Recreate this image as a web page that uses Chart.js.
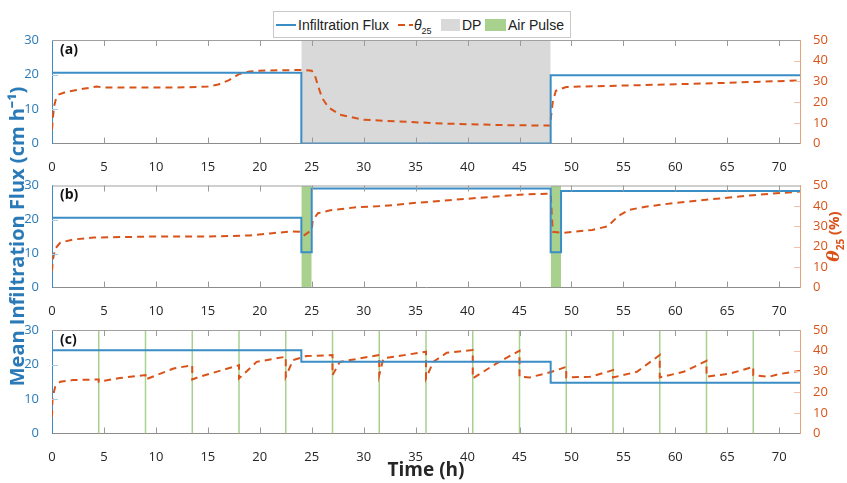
<!DOCTYPE html>
<html>
<head>
<meta charset="utf-8">
<title>Infiltration flux and theta25</title>
<script src="https://cdn.jsdelivr.net/npm/chart.js@4.4.1/dist/chart.umd.min.js"></script>
<style>
  body { margin: 0; background: #fff; }
  #wrap { position: relative; width: 847px; height: 483px; overflow: hidden; }
  #wrap canvas { position: absolute; left: 0; top: 0; }
  #legend { position: absolute; left: 273px; top: 11px; width: 296px; height: 25px; border: 1px solid #c8c8c8; background: #fff;
            font: 14px 'Liberation Sans', Arial, sans-serif; color: #222; z-index: 5; }
  #legend span { position: absolute; line-height: 16px; top: 5px; white-space: nowrap; }
  #legend .sw { height: 2px; top: 12px; }
  #legend .box { height: 12px; top: 7px; }
  #legend sub { font-size: 9px; }
</style>
</head>
<body>
<div id="wrap">
  <canvas id="panelA" width="847" height="483"></canvas>
  <canvas id="panelB" width="847" height="483"></canvas>
  <canvas id="panelC" width="847" height="483"></canvas>
  <div id="legend">
    <span class="sw" style="left:2px;width:20px;background:#3b8dc6"></span>
    <span style="left:24px">Infiltration Flux</span>
    <span class="sw" style="left:124px;width:15px;background:repeating-linear-gradient(90deg,#D95319 0 7px,transparent 7px 11px)"></span>
    <span style="left:140px"><i>θ</i><sub>25</sub></span>
    <span class="box" style="left:167px;width:19px;background:#d9d9d9"></span>
    <span style="left:188px">DP</span>
    <span class="box" style="left:211px;width:21px;background:#a9d18e"></span>
    <span style="left:234px">Air Pulse</span>
  </div>
</div>
<script>
// ---- tick labels ----
const xTicks = [0, 5, 10, 15, 20, 25, 30, 35, 40, 45, 50, 55, 60, 65, 70];
const fluxTicks = [0, 10, 20, 30];
const thetaTicks = [0, 10, 20, 30, 40, 50];

// ---- (a) drainage period ----
const fluxA_t = [0, 24, 24, 48, 48, 72];
const fluxA = [20.5, 20.5, 0, 0, 19.8, 19.8];
const thetaA_t = [0, 0.1, 0.2, 0.4, 0.7, 1.4, 3, 4.3, 5, 8, 12, 15, 16, 17, 18, 19, 20, 22, 24, 25, 25.3, 25.6, 26, 26.6, 27.7, 30, 33, 38, 44, 47.9, 48, 48.2, 48.5, 49.5, 55, 60, 65, 72];
const thetaA = [6.7, 13, 18, 22, 23.8, 25, 26.4, 27.5, 27, 27, 27, 27.5, 28.5, 30.5, 33.5, 34.8, 35.2, 35.4, 35.5, 35.2, 33, 28, 22, 17.5, 13.9, 11.5, 10.7, 9.6, 8.8, 8.7, 11.5, 20, 25.5, 27.3, 28, 28.6, 29.3, 30.5];
const dpPeriod = [24, 48];

// ---- (b) one-hour air pulses ----
const fluxB_t = [0, 24, 24, 25, 25, 48, 48, 49, 49, 72];
const fluxB = [20.5, 20.5, 10.4, 10.4, 29.1, 29.1, 10.4, 10.4, 28.4, 28.4];
const thetaB_t = [0, 0.1, 0.3, 0.8, 2, 4, 10, 15, 19, 21, 23, 24, 24.3, 25, 25.1, 25.6, 26.8, 29.3, 32, 35, 40, 45, 47.6, 48, 48.2, 49.2, 52, 53.5, 54.5, 55.5, 57, 60, 65, 68, 72];
const thetaB = [8, 14, 19, 22, 23.5, 24.5, 25, 25, 25.5, 26.5, 27.5, 27.3, 25.7, 28.2, 33, 36.4, 37.9, 39.3, 40, 41.5, 43.5, 45.5, 46, 46, 27.3, 26.8, 28.2, 30, 35, 38, 39.5, 41.5, 44, 45.5, 47];
const pulsesB = [[24, 25], [48, 49]];

// ---- (c) short air pulses every 4.5 h ----
const fluxC_t = [0, 24, 24, 48, 48, 72];
const fluxC = [24.1, 24.1, 20.8, 20.8, 14.7, 14.7];
const thetaC_t = [0, 0.05, 0.3, 0.8, 2, 4.5, 4.5, 6.5, 9, 9, 11.7, 13.5, 13.5, 14.2, 18, 18, 19.7, 22.5, 22.5, 23.2, 24.5, 27, 27, 27.7, 31.5, 31.5, 31.9, 36, 36, 36.7, 38, 40.5, 40.5, 42.8, 45, 45, 46, 48.1, 49.5, 49.5, 51.8, 54, 54, 56.3, 58.5, 58.5, 60.8, 63, 63, 65.3, 67.5, 67.5, 69, 70, 72];
const thetaC = [8, 17, 22.5, 25, 25.8, 26.1, 25, 26.8, 28.2, 26.1, 31.4, 33, 26.1, 27.4, 33, 26.6, 34.6, 37.1, 27.4, 35.5, 37.4, 37.9, 28.2, 34.6, 37.9, 28.2, 36.3, 39.5, 26.6, 34.6, 39, 40.3, 26.6, 33.9, 40, 27.4, 27.1, 29.8, 32.2, 27.1, 27.4, 30.6, 27.1, 29.8, 37.9, 27.1, 29.8, 35.1, 27.4, 29, 32.2, 28.2, 27.4, 28.7, 30.3];
const pulsesC = [4.5, 9, 13.5, 18, 22.5, 27, 31.5, 36, 40.5, 45, 49.5, 54, 58.5, 63, 67.5];

const BLUE = '#3b8dc6';
const BLUE_TXT = '#2a7ab8';
const ORANGE = '#D95319';
const DP_GRAY = '#d9d9d9';
const GREEN = '#a9d18e';

Chart.defaults.font.family = "'Open Sans', sans-serif";

function xy(ts, vs) {
  return ts.map((t, i) => ({ x: t, y: vs[i] }));
}

// MATLAB-like box: top border, inward ticks and the panel letter
const framePlugin = {
  id: 'frame',
  afterDraw(chart, args, opts) {
    const { ctx, chartArea: a, scales } = chart;
    const line = (x1, y1, x2, y2) => { ctx.beginPath(); ctx.moveTo(x1, y1); ctx.lineTo(x2, y2); ctx.stroke(); };
    ctx.save();
    ctx.lineWidth = 1;
    ctx.strokeStyle = '#a0a0a0';
    line(a.left, a.top + 0.5, a.right, a.top + 0.5);
    ctx.strokeStyle = '#9a9a9a';
    xTicks.slice(1).forEach(v => {
      const px = Math.round(scales.x.getPixelForValue(v)) + 0.5;
      line(px, a.bottom, px, a.bottom - 6);
      line(px, a.top, px, a.top + 6);
    });
    ctx.strokeStyle = '#a9cbe6';
    fluxTicks.slice(1, -1).forEach(v => {
      const py = Math.round(scales.y.getPixelForValue(v)) + 0.5;
      line(a.left, py, a.left + 6, py);
    });
    ctx.strokeStyle = '#f0c2a8';
    thetaTicks.slice(1, -1).forEach(v => {
      const py = Math.round(scales.y2.getPixelForValue(v)) + 0.5;
      line(a.right - 6, py, a.right, py);
    });
    ctx.fillStyle = '#111';
    ctx.font = "bold 14px 'Open Sans', sans-serif";
    ctx.textBaseline = 'middle';
    ctx.textAlign = 'left';
    ctx.fillText(opts.label, a.left + 8, a.top + 10);

    if (opts.rightTitle) {
      // right axis title "θ25 (%)" reading upwards, like MATLAB yyaxis right
      ctx.translate(835, (a.top + a.bottom) / 2);
      ctx.rotate(-Math.PI / 2);
      ctx.fillStyle = ORANGE;
      const f1 = "italic bold 17px 'DejaVu Serif', serif";
      const f2 = "bold 10px 'Open Sans', sans-serif";
      const f3 = "bold 15px 'Open Sans', sans-serif";
      ctx.font = f1; const w1 = ctx.measureText('θ').width;
      ctx.font = f2; const w2 = ctx.measureText('25').width;
      ctx.font = f3; const w3 = ctx.measureText(' (%)').width;
      let x0 = -(w1 + w2 + w3) / 2;
      ctx.font = f1; ctx.fillText('θ', x0, 0); x0 += w1;
      ctx.font = f2; ctx.fillText('25', x0, 6); x0 += w2;
      ctx.font = f3; ctx.fillText(' (%)', x0, 0);
    }
    ctx.restore();
  }
};

function panelOptions(o) {
  return {
    responsive: false,
    animation: false,
    events: [],
    layout: { padding: { top: o.top, bottom: o.bottom, left: 0, right: 0 } },
    plugins: {
      legend: { display: false },
      tooltip: { enabled: false },
      frame: { label: o.label, rightTitle: !!o.rightTitle }
    },
    scales: {
      x: {
        type: 'linear', min: 0, max: 72,
        afterBuildTicks: s => { s.ticks = xTicks.map(v => ({ value: v })); },
        afterFit: s => { s.height = o.xh; },
        grid: { display: false },
        border: { display: true, color: '#8c8c8c', width: 1 },
        ticks: { color: '#262626', padding: 8, font: { size: 13 } },
        title: {
          display: !!o.xTitle, text: o.xTitle || '', color: '#262626',
          font: { size: 19, weight: 'bold' }, padding: { top: 0, bottom: 1 }
        }
      },
      y: {
        position: 'left', min: 0, max: 30,
        afterBuildTicks: s => { s.ticks = fluxTicks.map(v => ({ value: v })); },
        afterFit: s => { s.width = 52; },
        grid: { display: false },
        border: { display: true, color: BLUE, width: 1 },
        ticks: { color: BLUE_TXT, padding: 5, font: { size: 13 } },
        title: {
          display: !!o.leftTitle, text: o.leftTitle || '', color: BLUE_TXT,
          font: { size: 20, weight: 'bold' }, padding: { top: 6, bottom: 0 }
        }
      },
      y2: {
        position: 'right', min: 0, max: 50,
        afterBuildTicks: s => { s.ticks = thetaTicks.map(v => ({ value: v })); },
        afterFit: s => { s.width = 47; },
        grid: { display: false },
        border: { display: true, color: '#e9a17c', width: 1 },
        ticks: { color: ORANGE, padding: 5, font: { size: 13 } }
      }
    }
  };
}

function fluxSet(ts, vs) {
  return { data: xy(ts, vs), yAxisID: 'y', borderColor: BLUE, borderWidth: 2, pointRadius: 0, tension: 0, fill: false };
}
function thetaSet(ts, vs) {
  return { data: xy(ts, vs), yAxisID: 'y2', borderColor: ORANGE, borderWidth: 2, borderDash: [7, 5], pointRadius: 0, tension: 0, fill: false };
}
function bandSet(from, to, color) {
  return { data: [{ x: from, y: 30 }, { x: to, y: 30 }], yAxisID: 'y', borderWidth: 0, pointRadius: 0,
           backgroundColor: color, fill: 'origin' };
}

// (a)
new Chart(document.getElementById('panelA'), {
  type: 'line',
  data: { datasets: [fluxSet(fluxA_t, fluxA), thetaSet(thetaA_t, thetaA), bandSet(dpPeriod[0], dpPeriod[1], DP_GRAY)] },
  options: panelOptions({ top: 40, bottom: 483 - 143.5 - 30, xh: 30, label: '(a)' }),
  plugins: [framePlugin]
});

// (b)
new Chart(document.getElementById('panelB'), {
  type: 'line',
  data: {
    datasets: [fluxSet(fluxB_t, fluxB), thetaSet(thetaB_t, thetaB)]
      .concat(pulsesB.map(p => bandSet(p[0], p[1], GREEN)))
  },
  options: panelOptions({
    top: 185.5, bottom: 483 - 287.5 - 30, xh: 30, label: '(b)',
    leftTitle: 'Mean Infiltration Flux (cm h\u207B\u00B9)', rightTitle: true
  }),
  plugins: [framePlugin]
});

// (c)
const pulseLines = {
  data: pulsesC.flatMap(p => [{ x: p, y: 0 }, { x: p, y: 30 }, { x: p, y: null }]),
  yAxisID: 'y', borderColor: GREEN, borderWidth: 1.5, pointRadius: 0, spanGaps: false, fill: false
};
new Chart(document.getElementById('panelC'), {
  type: 'line',
  data: { datasets: [fluxSet(fluxC_t, fluxC), thetaSet(thetaC_t, thetaC), pulseLines] },
  options: panelOptions({ top: 330, bottom: 0, xh: 49.5, label: '(c)', xTitle: 'Time (h)' }),
  plugins: [framePlugin]
});
</script>
</body>
</html>
